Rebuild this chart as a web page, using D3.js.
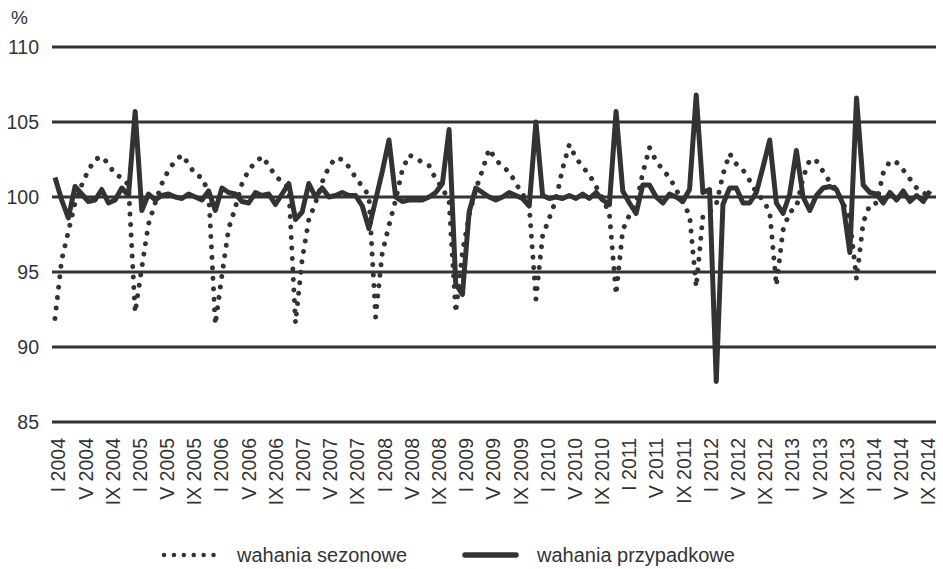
<!DOCTYPE html>
<html>
<head>
<meta charset="utf-8"/>
<title>wahania sezonowe i przypadkowe</title>
<script src="https://cdn.jsdelivr.net/npm/d3@7"></script>
<style>
  body { margin: 0; background: #fff; }
  svg { font-family: "Liberation Sans", Arial, sans-serif; }
  .tick text { fill: #333; }
</style>
</head>
<body>
<div id="chart"></div>
<script>
// months I 2004 .. XII 2014
var romans = ["I","II","III","IV","V","VI","VII","VIII","IX","X","XI","XII"];
var years = d3.range(2004, 2015);
var months = [];
years.forEach(function(y) { romans.forEach(function(r) { months.push(r + " " + y); }); });

// tick labels shown under the axis
var tickLabels = [];
years.forEach(function(y) { ["I","V","IX"].forEach(function(r) { tickLabels.push(r + " " + y); }); });

var yTicks = [85, 90, 95, 100, 105, 110];

// wahania sezonowe (%)
var seasonal = [
  91.9, 95.8, 97.7, 99.6, 100.8, 101.8, 102.5, 102.7, 102.2, 101.5, 101.3, 100.8,
  92.3, 95.3, 98.2, 99.6, 100.9, 101.8, 102.4, 102.8, 102.2, 101.5, 101.3, 100.3,
  91.5, 94.8, 97.9, 99.3, 100.9, 101.8, 102.3, 102.7, 102.1, 101.4, 101.0, 100.6,
  91.6, 95.8, 98.5, 99.6, 101.0, 102.0, 102.6, 102.5, 102.0, 101.3, 100.7, 100.1,
  92.0, 96.3, 98.1, 99.8, 101.8, 102.8, 102.6, 102.3, 102.1, 101.2, 100.6, 99.7,
  92.3, 96.3, 98.8, 100.5, 101.8, 103.2, 102.5, 102.0, 101.7, 100.9, 100.2, 99.4,
  93.2, 97.4, 98.6, 99.8, 101.9, 103.5, 102.6, 102.0, 101.5, 100.7, 99.9, 98.9,
  93.5, 97.8, 98.8, 99.5, 101.6, 103.3, 102.4, 101.8, 101.3, 100.5, 99.6, 98.8,
  94.0, 98.7, 99.0, 99.5, 101.5, 102.9, 102.2, 101.8, 101.1, 100.3, 99.8, 99.0,
  94.1, 97.8, 99.0, 99.3, 101.3, 102.5, 102.4, 101.7, 101.0, 100.5, 99.6, 98.5,
  94.5, 98.3, 99.5, 99.6, 101.6, 102.4, 102.3, 101.8, 101.2, 100.6, 100.3, 100.0
];

// wahania przypadkowe (%)
var irregular = [
  101.3, 99.8, 98.6, 100.7, 100.2, 99.7, 99.8, 100.5, 99.6, 99.8, 100.6, 100.1,
  105.7, 99.1, 100.2, 99.8, 100.1, 100.2, 100.0, 99.9, 100.2, 100.0, 99.8, 100.4,
  99.1, 100.6, 100.3, 100.2, 99.7, 99.6, 100.3, 100.1, 100.2, 99.5, 100.2, 100.9,
  98.5, 99.0, 100.9, 100.0, 100.6, 100.0, 100.1, 100.3, 100.1, 100.1, 99.4, 97.9,
  99.8, 101.7, 103.8, 100.0, 99.7, 99.8, 99.8, 99.8, 100.0, 100.3, 100.9, 104.5,
  94.2, 93.5, 99.0, 100.6, 100.3, 100.0, 99.8, 100.0, 100.3, 100.1, 99.9, 99.4,
  105.0, 100.1, 99.9, 100.0, 99.9, 100.1, 99.9, 100.2, 99.9, 100.3, 99.8, 99.5,
  105.7, 100.4, 99.6, 98.9, 100.8, 100.8, 100.0, 99.6, 100.2, 100.0, 99.7, 100.5,
  106.8, 100.3, 100.5, 87.7, 99.5, 100.6, 100.6, 99.6, 99.6, 100.3, 102.0, 103.8,
  99.6, 98.9, 100.2, 103.1, 100.0, 99.1, 100.1, 100.6, 100.7, 100.5, 99.5, 96.3,
  106.6, 100.8, 100.3, 100.2, 99.6, 100.3, 99.8, 100.4, 99.7, 100.1, 99.7, 100.4
];

var w = 943, h = 569;
var ink = "#333";
var plotLeft = 52, plotRight = 936, plotTop = 47, plotBottom = 422;

var svg = d3.select("#chart").append("svg")
    .attr("width", w)
    .attr("height", h);

var xScale = d3.scalePoint().domain(months).range([55, 930]);
var xLabels = d3.scalePoint().domain(tickLabels).range([58, 928]);
var yScale = d3.scaleLinear().domain([85, 110]).range([plotBottom, plotTop]);

// horizontal grid lines
svg.append("g")
    .selectAll("line")
    .data(yTicks)
    .enter().append("line")
    .attr("x1", plotLeft).attr("x2", plotRight)
    .attr("y1", function(d) { return yScale(d); })
    .attr("y2", function(d) { return yScale(d); })
    .attr("stroke", ink)
    .attr("stroke-width", 3);

// y axis labels
var yAxis = d3.axisLeft(yScale).tickValues(yTicks).tickSize(0).tickPadding(0);
svg.append("g")
    .attr("transform", "translate(39,0)")
    .call(yAxis)
    .call(function(g) { g.select(".domain").remove(); })
    .selectAll("text")
    .attr("font-size", 19.5)
    .attr("font-family", "Liberation Sans, Arial, sans-serif");

svg.append("text")
    .attr("x", 11).attr("y", 24)
    .attr("font-size", 19)
    .attr("fill", ink)
    .text("%");

// x axis labels, rotated
var xAxis = d3.axisBottom(xLabels).tickSize(0).tickPadding(0);
svg.append("g")
    .attr("transform", "translate(0," + plotBottom + ")")
    .call(xAxis)
    .call(function(g) { g.select(".domain").remove(); })
    .selectAll("text")
    .attr("font-size", 19.5)
    .attr("font-family", "Liberation Sans, Arial, sans-serif")
    .attr("text-anchor", "end")
    .attr("transform", "rotate(-90)")
    .attr("x", -16)
    .attr("y", 0)
    .attr("dy", "0.35em");

var line = function(vals) {
  return d3.line()
    .x(function(d, i) { return xScale(months[i]); })
    .y(function(d) { return yScale(d); })(vals);
};

svg.append("path")
    .attr("d", line(seasonal))
    .attr("fill", "none")
    .attr("stroke", ink)
    .attr("stroke-width", 5)
    .attr("stroke-linecap", "round")
    .attr("stroke-dasharray", "0.01 10.5");

svg.append("path")
    .attr("d", line(irregular))
    .attr("fill", "none")
    .attr("stroke", ink)
    .attr("stroke-width", 5)
    .attr("stroke-linejoin", "round");

// legend
var legend = svg.append("g").attr("font-size", 20).attr("fill", ink);
legend.append("line")
    .attr("x1", 164).attr("x2", 214).attr("y1", 555).attr("y2", 555)
    .attr("stroke", ink).attr("stroke-width", 4.5)
    .attr("stroke-linecap", "round")
    .attr("stroke-dasharray", "0.01 9.9");
legend.append("text").attr("x", 237).attr("y", 562).text("wahania sezonowe");
legend.append("line")
    .attr("x1", 465).attr("x2", 516).attr("y1", 555).attr("y2", 555)
    .attr("stroke", ink).attr("stroke-width", 5.5)
    .attr("stroke-linecap", "round");
legend.append("text").attr("x", 537).attr("y", 562).text("wahania przypadkowe");
</script>
</body>
</html>
